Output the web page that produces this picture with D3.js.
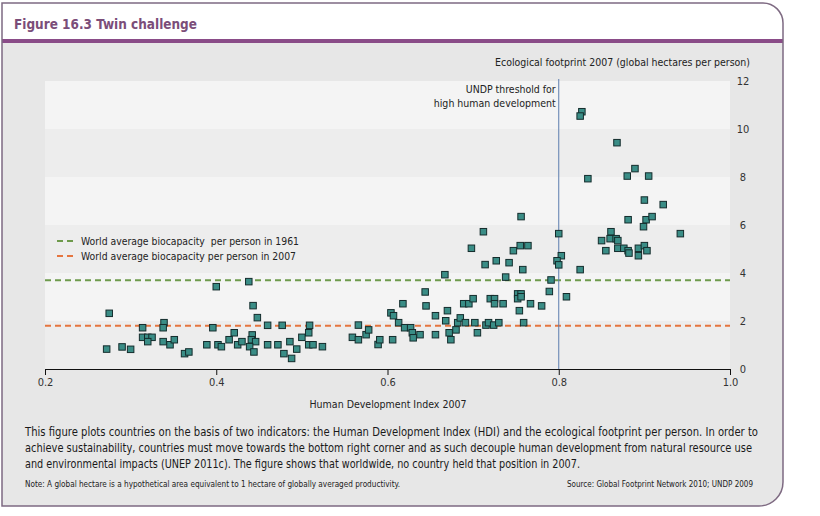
<!DOCTYPE html>
<html><head><meta charset="utf-8">
<script src="https://cdn.jsdelivr.net/npm/d3@7"></script>
<style>
body{margin:0;background:#fff;}
svg{display:block;}
text{font-family:"Liberation Sans Narrow","DejaVu Sans Condensed","Roboto",sans-serif;white-space:pre;}
</style>
</head><body>
<svg id="chart" width="820" height="516"></svg>
<script>
// ---- data ----
const hdi = [0.272,0.275,0.290,0.300,0.314,0.314,0.320,0.325,0.320,0.339,0.338,0.338,0.346,0.351,0.363,0.368,0.389,0.400,0.396,0.402,0.406,0.415,0.421,0.425,0.430,0.438,0.443,0.448,0.442,0.441,0.446,0.439,0.444,0.460,0.460,0.472,0.477,0.479,0.486,0.488,0.494,0.500,0.508,0.509,0.508,0.513,0.524,0.559,0.566,0.566,0.575,0.578,0.589,0.591,0.604,0.607,0.613,0.606,0.618,0.620,0.627,0.629,0.630,0.638,0.644,0.645,0.656,0.656,0.667,0.670,0.668,0.672,0.674,0.680,0.682,0.685,0.691,0.689,0.695,0.700,0.698,0.702,0.705,0.712,0.714,0.715,0.718,0.724,0.730,0.720,0.725,0.725,0.735,0.727,0.742,0.747,0.755,0.764,0.756,0.758,0.738,0.752,0.756,0.752,0.756,0.754,0.759,0.767,0.780,0.791,0.789,0.800,0.803,0.798,0.800,0.809,0.825,0.827,0.825,0.834,0.850,0.855,0.861,0.860,0.867,0.869,0.869,0.876,0.881,0.882,0.868,0.889,0.880,0.905,0.900,0.922,0.881,0.902,0.909,0.899,0.942,0.893,0.900,0.903,0.893];
const footprint = [0.83,2.32,0.92,0.82,1.72,1.32,1.32,1.32,1.14,1.93,1.72,1.14,1.01,1.22,0.64,0.71,1.01,3.43,1.72,1.01,0.93,1.22,1.51,1.01,1.14,3.64,2.64,2.14,1.42,1.22,1.14,0.93,0.71,1.82,1.01,1.01,1.82,0.64,1.14,0.44,0.83,1.32,1.51,1.82,1.01,1.01,0.93,1.32,1.83,1.22,1.43,1.63,1.02,1.22,2.34,2.22,1.93,1.22,2.72,1.72,1.72,1.51,1.30,1.43,3.21,2.63,2.22,1.43,3.93,2.43,2.01,1.51,1.22,1.63,1.93,2.13,1.93,2.72,2.72,2.93,5.03,1.93,1.51,5.72,4.35,1.83,1.93,1.83,1.93,2.93,2.93,2.72,2.72,4.51,4.43,4.93,5.14,5.14,6.35,4.14,3.83,3.13,3.13,2.93,3.01,2.43,1.93,2.72,2.63,3.71,3.23,5.64,4.72,4.51,4.34,3.01,4.14,10.72,10.54,7.93,5.35,4.93,5.72,5.43,5.43,5.35,5.03,5.03,4.93,4.83,9.43,8.35,8.04,8.04,7.04,6.85,6.22,6.22,6.35,5.93,5.64,5.03,5.14,4.93,4.72];
const xTicks = [0.2, 0.4, 0.6, 0.8, 1.0];
const yTicks = [0, 2, 4, 6, 8, 10, 12];
const bandEdges = [0, 2, 4, 6, 8, 10, 12];
const biocapacity1961 = 3.7;
const biocapacity2007 = 1.8;
const hdiThreshold = 0.8;
const titleText = "Figure 16.3 Twin challenge";
const yTitle = "Ecological footprint 2007 (global hectares per person)";
const xTitle = "Human Development Index 2007";
const thresholdLabel = ["UNDP threshold for", "high human development"];
const legendLabels = ["World average biocapacity  per person in 1961", "World average biocapacity per person in 2007"];
const captionLines = [
  "This figure plots countries on the basis of two indicators: the Human Development Index (HDI) and the ecological footprint per person. In order to",
  "achieve sustainability, countries must move towards the bottom right corner and as such decouple human development from natural resource use",
  "and environmental impacts (UNEP 2011c). The figure shows that worldwide, no country held that position in 2007."
];
const noteText = "Note: A global hectare is a hypothetical area equivalent to 1 hectare of globally averaged productivity.";
const sourceText = "Source: Global Footprint Network 2010; UNDP 2009";

// ---- drawing ----
const svg = d3.select("#chart");
const purple = "#8a4c88";
const frameColor = "#7e6a82";

function fit(sel, w){
  const node = sel.node();
  const nat = node.getComputedTextLength();
  if (nat > w * 1.06) {
    const fs = parseFloat(sel.attr("font-size"));
    sel.attr("font-size", (fs * w * 1.06 / nat).toFixed(2));
  }
  sel.attr("textLength", w).attr("lengthAdjust", "spacingAndGlyphs");
  return sel;
}

// frame
const L = 2, T = 3, R = 783, B = 506, r1 = 20, r2 = 24;
const framePath = `M${L},${T}H${R-r1}A${r1},${r1} 0 0 1 ${R},${T+r1}V${B-r2}A${r2},${r2} 0 0 1 ${R-r2},${B}H${L}Z`;
svg.append("path").attr("d", framePath).attr("fill", "#e7e7e7");
svg.append("path")
  .attr("d", `M${L},${T}H${R-r1}A${r1},${r1} 0 0 1 ${R},${T+r1}V39H${L}Z`)
  .attr("fill", "#ffffff");
svg.append("rect").attr("x", L).attr("y", 39).attr("width", R - L).attr("height", 4).attr("fill", purple);
svg.append("path").attr("d", framePath)
  .attr("fill", "none").attr("stroke", frameColor).attr("stroke-width", 1.5);

fit(svg.append("text").attr("x", 14).attr("y", 29).attr("font-size", 15).attr("font-weight", "bold")
  .attr("fill", "#7b4d79").text(titleText), 183);

const x = d3.scaleLinear().domain([0.2, 1.0]).range([45, 730]);
const y = d3.scaleLinear().domain([0, 12]).range([369, 81]);

// bands
const bands = d3.pairs(bandEdges);
svg.append("g").selectAll("rect").data(bands).join("rect")
  .attr("x", x(0.2)).attr("width", x(1.0) - x(0.2))
  .attr("y", d => y(d[1])).attr("height", d => y(d[0]) - y(d[1]))
  .attr("fill", (d, i) => i % 2 === 0 ? "#ededed" : "#f4f4f4");

// reference lines
const refs = [{v: biocapacity1961, c: "#6e9a4c"}, {v: biocapacity2007, c: "#e5753f"}];
svg.append("g").selectAll("line").data(refs).join("line")
  .attr("x1", x(0.2)).attr("x2", x(1.0))
  .attr("y1", d => y(d.v)).attr("y2", d => y(d.v))
  .attr("stroke", d => d.c).attr("stroke-width", 2).attr("stroke-dasharray", "6,4");

// threshold
svg.append("line").attr("x1", x(hdiThreshold)).attr("x2", x(hdiThreshold))
  .attr("y1", y(12) - 2).attr("y2", y(0)).attr("stroke", "#5b7cae").attr("stroke-width", 1);
fit(svg.append("text").attr("x", x(hdiThreshold) - 3).attr("y", 93).attr("text-anchor", "end")
  .attr("font-size", 11.5).attr("fill", "#222").text(thresholdLabel[0]), 90);
fit(svg.append("text").attr("x", x(hdiThreshold) - 3).attr("y", 107).attr("text-anchor", "end")
  .attr("font-size", 11.5).attr("fill", "#222").text(thresholdLabel[1]), 122);

// legend
const legY = [241, 256];
const legW = [218, 215];
refs.forEach((d, i) => {
  svg.append("line").attr("x1", 57).attr("x2", 73).attr("y1", legY[i]).attr("y2", legY[i])
    .attr("stroke", d.c).attr("stroke-width", 2).attr("stroke-dasharray", "6,4");
  fit(svg.append("text").attr("x", 81).attr("y", legY[i] + 4).attr("font-size", 11.5).attr("fill", "#222")
    .text(legendLabels[i]), legW[i]);
});

// points
const pts = hdi.map((h, i) => ({h, f: footprint[i]}));
svg.append("g").selectAll("rect").data(pts).join("rect")
  .attr("x", d => x(d.h) - 3.25).attr("y", d => y(d.f) - 3.25)
  .attr("width", 6.5).attr("height", 6.5)
  .attr("fill", "#3a8d86").attr("stroke", "#142c2c").attr("stroke-width", 1);

// x axis
const xa = svg.append("g").attr("transform", `translate(0,${y(0)})`)
  .call(d3.axisBottom(x).tickValues(xTicks).tickFormat(d3.format(".1f")).tickSize(6).tickSizeOuter(0));
xa.select(".domain").attr("stroke", "#111");
xa.selectAll(".tick line").attr("stroke", "#111");
xa.selectAll(".tick text").attr("font-size", 11).attr("fill", "#333")
  .style("font-family", '"Liberation Sans Narrow","DejaVu Sans Condensed","Roboto",sans-serif');

fit(svg.append("text").attr("x", 388).attr("y", 408).attr("text-anchor", "middle").attr("font-size", 11.5)
  .attr("fill", "#222").text(xTitle), 157);

// y labels (right)
svg.append("g").selectAll("text").data(yTicks).join("text")
  .attr("x", 743).attr("y", d => y(d) + 4).attr("text-anchor", "middle")
  .attr("font-size", 11).attr("fill", "#333").text(d => d);
fit(svg.append("text").attr("x", 750).attr("y", 66).attr("text-anchor", "end").attr("font-size", 11.5)
  .attr("fill", "#222").text(yTitle), 255);

// caption
const capW = [733, 727, 555];
captionLines.forEach((t, i) => {
  fit(svg.append("text").attr("x", 25).attr("y", 436 + i * 16).attr("font-size", 12.5).attr("fill", "#1a1a1a").text(t), capW[i]);
});
fit(svg.append("text").attr("x", 25).attr("y", 487).attr("font-size", 8.5).attr("fill", "#222").text(noteText), 375);
fit(svg.append("text").attr("x", 753).attr("y", 487).attr("text-anchor", "end").attr("font-size", 8.5).attr("fill", "#222").text(sourceText), 186);
</script>
</body></html>
